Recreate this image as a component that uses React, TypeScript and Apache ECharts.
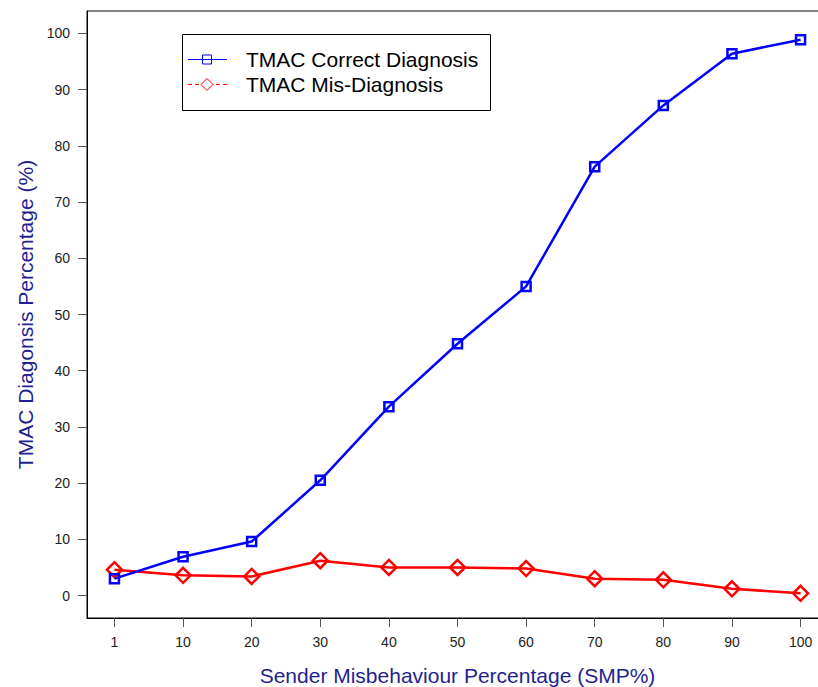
import React, { useEffect, useRef } from "react";
import * as echarts from "echarts";

const categories = ["1", "10", "20", "30", "40", "50", "60", "70", "80", "90", "100"];
const correctDiagnosis = [3.0, 6.9, 9.6, 20.5, 33.6, 44.8, 55.0, 76.3, 87.2, 96.4, 98.9];
const misDiagnosis = [4.6, 3.6, 3.4, 6.2, 5.0, 5.0, 4.8, 3.0, 2.8, 1.2, 0.4];
const yTicks = [0, 10, 20, 30, 40, 50, 60, 70, 80, 90, 100];
const seriesNames = ["TMAC Correct Diagnosis", "TMAC Mis-Diagnosis"];

const FONT = "'Liberation Sans', Arial, Helvetica, sans-serif";
const TITLE_COLOR = "#1f1f8f";

export default function App() {
  const ref = useRef<HTMLDivElement>(null);

  useEffect(() => {
    if (!ref.current) return;
    const chart = echarts.init(ref.current, undefined, { renderer: "svg" });
    const xIdx = categories.map((_, i) => i);

    chart.setOption({
      animation: false,
      backgroundColor: "#ffffff",
      textStyle: { fontFamily: FONT },
      grid: {
        left: 87,
        top: 11,
        width: 741,
        height: 607,
        outerBoundsMode: "none",
        containLabel: false,
        show: true,
        borderColor: "#000",
        borderWidth: 1,
        backgroundColor: "transparent",
      },
      xAxis: {
        type: "value",
        min: -0.4,
        max: 10.4,
        name: "Sender Misbehaviour Percentage (SMP%)",
        nameLocation: "middle",
        nameGap: 47,
        nameTextStyle: { fontSize: 21, color: TITLE_COLOR, fontFamily: FONT },
        axisLine: { show: true, onZero: false, lineStyle: { color: "#000", width: 1 } },
        axisTick: {
          show: true,
          length: 9,
          customValues: xIdx,
          lineStyle: { color: "#555", width: 1 },
        },
        axisLabel: {
          customValues: xIdx,
          margin: 17,
          fontSize: 14,
          color: "#222",
          fontFamily: FONT,
          formatter: (v: number) => categories[Math.round(v)] ?? "",
        },
        splitLine: { show: false },
      },
      yAxis: {
        type: "value",
        min: -4,
        max: 104,
        name: "TMAC Diagonsis Percentage (%)",
        nameLocation: "middle",
        nameGap: 51,
        nameTextStyle: { fontSize: 21, color: TITLE_COLOR, fontFamily: FONT },
        axisLine: { show: true, onZero: false, lineStyle: { color: "#000", width: 1 } },
        axisTick: {
          show: true,
          length: 9,
          customValues: yTicks,
          lineStyle: { color: "#555", width: 1 },
        },
        axisLabel: {
          customValues: yTicks,
          margin: 17,
          fontSize: 14,
          color: "#222",
          fontFamily: FONT,
        },
        splitLine: { show: false },
      },
      series: [
        {
          name: seriesNames[0],
          type: "line",
          data: correctDiagnosis.map((v, i) => [i, v]),
          symbol: "rect",
          symbolSize: 9,
          itemStyle: { color: "rgba(0,0,0,0)", borderColor: "#0000ff", borderWidth: 2.5 },
          lineStyle: { color: "#0000ff", width: 2.5 },
          z: 3,
        },
        {
          name: seriesNames[1],
          type: "line",
          data: misDiagnosis.map((v, i) => [i, v]),
          symbol: "diamond",
          symbolSize: [15, 15],
          itemStyle: { color: "rgba(0,0,0,0)", borderColor: "#ff0000", borderWidth: 2.5 },
          lineStyle: { color: "#ff0000", width: 2.5 },
          z: 2,
        },
      ],
      graphic: [
        {
          type: "group",
          z: 100,
          children: [
            {
              type: "rect",
              shape: { x: 182.5, y: 34.5, width: 308, height: 76 },
              style: { fill: "#fff", stroke: "#000", lineWidth: 1 },
            },
            {
              type: "line",
              shape: { x1: 188, y1: 59.5, x2: 227, y2: 59.5 },
              style: { stroke: "#0000ff", lineWidth: 1 },
            },
            {
              type: "rect",
              shape: { x: 202.5, y: 55, width: 9, height: 9 },
              style: { fill: "none", stroke: "#0000ff", lineWidth: 1 },
            },
            {
              type: "line",
              shape: { x1: 188, y1: 84.5, x2: 227, y2: 84.5 },
              style: { stroke: "#ff0000", lineWidth: 1, lineDash: [4, 3] },
            },
            {
              type: "polygon",
              shape: { points: [[207, 78.5], [213, 84.5], [207, 90.5], [201, 84.5]] },
              style: { fill: "#fff", stroke: "#ff0000", lineWidth: 1 },
            },
            {
              type: "text",
              x: 246,
              y: 59.5,
              style: {
                text: seriesNames[0],
                fontSize: 21,
                fontFamily: FONT,
                fill: "#000",
                verticalAlign: "middle",
              },
            },
            {
              type: "text",
              x: 246,
              y: 84.5,
              style: {
                text: seriesNames[1],
                fontSize: 21,
                fontFamily: FONT,
                fill: "#000",
                verticalAlign: "middle",
              },
            },
          ],
        },
      ],
    });

    return () => chart.dispose();
  }, []);

  return (
    <div
      ref={ref}
      style={{ position: "absolute", left: 0, top: 0, width: 818, height: 687 }}
    />
  );
}
